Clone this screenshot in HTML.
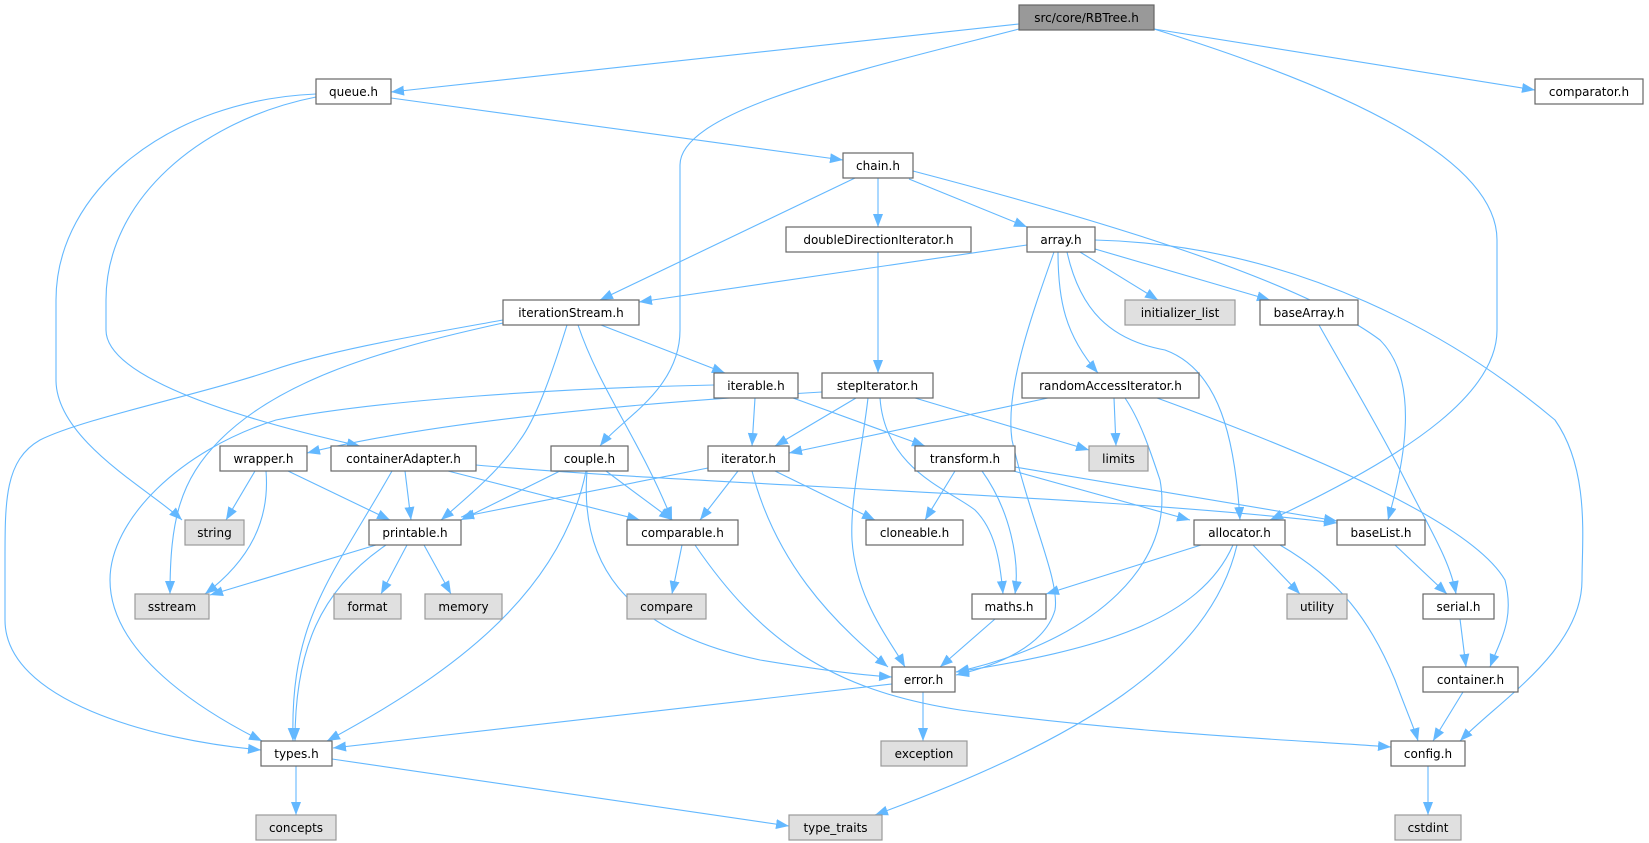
<!DOCTYPE html>
<html><head><meta charset="utf-8"><style>
html,body{margin:0;padding:0;background:#fff;}
svg{display:block;}
text{font-family:"DejaVu Sans","Liberation Sans",sans-serif;font-size:12px;fill:#000;}
.e{fill:none;stroke:#63b8ff;stroke-width:1.1;marker-end:url(#a);}
.n{fill:#fff;stroke:#666;stroke-width:1.2;}
.g{fill:#e0e0e0;stroke:#999;stroke-width:1.2;}
.r{fill:#999;stroke:#666;stroke-width:1.2;}
</style></head><body>
<svg width="1649" height="843" viewBox="0 0 1649 843" xmlns="http://www.w3.org/2000/svg">
<defs><marker id="a" markerUnits="userSpaceOnUse" markerWidth="14" markerHeight="11" refX="13" refY="5" orient="auto"><path d="M0,0 L13,5 L0,10 z" fill="#63b8ff"/></marker></defs>
<g>
<path class="e" d="M1019,24 L391,92"/>
<path class="e" d="M1019,29 C860,70 680,110 680,165 L680,330 C680,390 620,420 600,446"/>
<path class="e" d="M1154,29 C1350,90 1497,160 1497,240 L1497,330 C1497,390 1420,450 1270,520"/>
<path class="e" d="M1154,29 L1535,90"/>
<path class="e" d="M316,94 C170,100 56,190 56,300 L56,380 C56,440 150,490 182,520"/>
<path class="e" d="M316,97 C200,120 106,200 106,300 L106,330 C106,370 200,410 360,446"/>
<path class="e" d="M391,98 L843,160"/>
<path class="e" d="M855,178 L600,300"/>
<path class="e" d="M878,178 L878,227"/>
<path class="e" d="M909,179 L1027,227"/>
<path class="e" d="M913,171 C1100,220 1300,280 1380,340 C1420,380 1405,460 1388,520"/>
<path class="e" d="M878,252 L878,373"/>
<path class="e" d="M1027,245 L639,302"/>
<path class="e" d="M1080,252 L1158,300"/>
<path class="e" d="M1095,249 L1270,300"/>
<path class="e" d="M1058,252 C1058,300 1065,335 1098,373"/>
<path class="e" d="M1054,252 C1030,320 1005,390 1012,440 C1030,520 1060,580 1055,610 C1045,645 1000,665 956,675"/>
<path class="e" d="M1067,252 C1080,310 1110,340 1165,350 C1220,370 1235,440 1240,520"/>
<path class="e" d="M1095,240 C1300,245 1460,340 1555,420 C1590,470 1582,540 1582,580 C1582,650 1500,700 1460,741"/>
<path class="e" d="M601,325 L725,373"/>
<path class="e" d="M503,320 C420,335 330,350 273,370 C200,395 84,418 40,440 C5,460 5,500 5,560 L5,620 C5,700 150,740 261,750"/>
<path class="e" d="M503,323 C380,350 280,380 220,440 C180,480 170,520 170,594"/>
<path class="e" d="M567,325 C550,380 535,420 520,440 C500,470 470,495 441,520"/>
<path class="e" d="M578,325 C600,390 640,440 672,520"/>
<path class="e" d="M714,385 C560,388 380,400 276,420 C180,450 110,520 110,580 C110,660 220,720 262,741"/>
<path class="e" d="M755,398 L752,446"/>
<path class="e" d="M793,398 L925,446"/>
<path class="e" d="M822,392 C600,405 420,425 307,453"/>
<path class="e" d="M856,398 L775,446"/>
<path class="e" d="M915,398 L1089,450"/>
<path class="e" d="M868,398 C862,450 850,500 852,540 C856,600 890,640 905,667"/>
<path class="e" d="M880,398 C885,470 950,490 975,510 C995,530 1000,560 1003,594"/>
<path class="e" d="M1048,398 L789,453"/>
<path class="e" d="M1114,398 L1116,446"/>
<path class="e" d="M1125,398 C1140,420 1150,450 1160,480 C1175,560 1100,640 956,672"/>
<path class="e" d="M1157,398 C1300,450 1470,520 1505,580 C1515,620 1500,640 1490,667"/>
<path class="e" d="M1319,325 C1350,380 1380,430 1400,470 C1430,530 1450,560 1456,594"/>
<path class="e" d="M255,471 L226,520"/>
<path class="e" d="M266,471 C270,520 250,560 205,594"/>
<path class="e" d="M288,471 L390,520"/>
<path class="e" d="M405,471 L411,520"/>
<path class="e" d="M392,471 C330,580 290,620 293,741"/>
<path class="e" d="M448,471 L640,520"/>
<path class="e" d="M476,465 C700,485 1100,495 1337,523"/>
<path class="e" d="M560,471 L461,520"/>
<path class="e" d="M606,471 L672,520"/>
<path class="e" d="M586,471 C560,600 440,680 327,741"/>
<path class="e" d="M587,471 C580,560 620,630 760,660 C820,670 860,675 892,677"/>
<path class="e" d="M708,468 L461,517"/>
<path class="e" d="M738,471 L700,520"/>
<path class="e" d="M775,471 L875,520"/>
<path class="e" d="M752,471 C775,560 830,620 888,667"/>
<path class="e" d="M955,471 L925,520"/>
<path class="e" d="M982,471 C1010,510 1020,560 1015,594"/>
<path class="e" d="M1010,470 L1190,520"/>
<path class="e" d="M1015,467 L1337,521"/>
<path class="e" d="M682,545 L672,594"/>
<path class="e" d="M695,545 C760,640 830,690 960,710 C1150,735 1300,740 1391,747"/>
<path class="e" d="M376,545 L210,595"/>
<path class="e" d="M407,545 L381,594"/>
<path class="e" d="M424,545 L451,594"/>
<path class="e" d="M386,545 C320,590 295,650 295,741"/>
<path class="e" d="M1201,545 L1046,594"/>
<path class="e" d="M1253,545 L1300,594"/>
<path class="e" d="M1233,545 C1200,620 1100,650 956,672"/>
<path class="e" d="M1237,545 C1210,660 1080,740 875,815"/>
<path class="e" d="M1280,545 C1340,580 1370,620 1395,680 C1408,715 1415,730 1418,741"/>
<path class="e" d="M1395,545 L1447,594"/>
<path class="e" d="M1460,619 L1466,667"/>
<path class="e" d="M1463,692 L1433,741"/>
<path class="e" d="M995,619 L940,667"/>
<path class="e" d="M892,684 L333,748"/>
<path class="e" d="M923,692 L923,741"/>
<path class="e" d="M332,759 L789,826"/>
<path class="e" d="M296,766 L296,815"/>
<path class="e" d="M1428,766 L1428,815"/>
</g>
<g>
<rect class="r" x="1019" y="5" width="135" height="25"/><text x="1086.5" y="22" text-anchor="middle">src/core/RBTree.h</text>
<rect class="n" x="316" y="79" width="75" height="25"/><text x="353.5" y="96" text-anchor="middle">queue.h</text>
<rect class="n" x="1535" y="79" width="108" height="25"/><text x="1589" y="96" text-anchor="middle">comparator.h</text>
<rect class="n" x="843" y="153" width="70" height="25"/><text x="878" y="170" text-anchor="middle">chain.h</text>
<rect class="n" x="786" y="227" width="185" height="25"/><text x="878.5" y="244" text-anchor="middle">doubleDirectionIterator.h</text>
<rect class="n" x="1027" y="227" width="68" height="25"/><text x="1061" y="244" text-anchor="middle">array.h</text>
<rect class="n" x="503" y="300" width="136" height="25"/><text x="571" y="317" text-anchor="middle">iterationStream.h</text>
<rect class="g" x="1125" y="300" width="110" height="25"/><text x="1180" y="317" text-anchor="middle">initializer_list</text>
<rect class="n" x="1260" y="300" width="98" height="25"/><text x="1309" y="317" text-anchor="middle">baseArray.h</text>
<rect class="n" x="714" y="373" width="84" height="25"/><text x="756" y="390" text-anchor="middle">iterable.h</text>
<rect class="n" x="822" y="373" width="111" height="25"/><text x="877.5" y="390" text-anchor="middle">stepIterator.h</text>
<rect class="n" x="1022" y="373" width="177" height="25"/><text x="1110.5" y="390" text-anchor="middle">randomAccessIterator.h</text>
<rect class="n" x="220" y="446" width="87" height="25"/><text x="263.5" y="463" text-anchor="middle">wrapper.h</text>
<rect class="n" x="331" y="446" width="145" height="25"/><text x="403.5" y="463" text-anchor="middle">containerAdapter.h</text>
<rect class="n" x="551" y="446" width="77" height="25"/><text x="589.5" y="463" text-anchor="middle">couple.h</text>
<rect class="n" x="708" y="446" width="81" height="25"/><text x="748.5" y="463" text-anchor="middle">iterator.h</text>
<rect class="n" x="915" y="446" width="100" height="25"/><text x="965" y="463" text-anchor="middle">transform.h</text>
<rect class="g" x="1089" y="446" width="59" height="25"/><text x="1118.5" y="463" text-anchor="middle">limits</text>
<rect class="g" x="185" y="520" width="59" height="25"/><text x="214.5" y="537" text-anchor="middle">string</text>
<rect class="n" x="369" y="520" width="92" height="25"/><text x="415" y="537" text-anchor="middle">printable.h</text>
<rect class="n" x="627" y="520" width="111" height="25"/><text x="682.5" y="537" text-anchor="middle">comparable.h</text>
<rect class="n" x="866" y="520" width="97" height="25"/><text x="914.5" y="537" text-anchor="middle">cloneable.h</text>
<rect class="n" x="1194" y="520" width="91" height="25"/><text x="1239.5" y="537" text-anchor="middle">allocator.h</text>
<rect class="n" x="1337" y="520" width="88" height="25"/><text x="1381" y="537" text-anchor="middle">baseList.h</text>
<rect class="g" x="135" y="594" width="74" height="25"/><text x="172" y="611" text-anchor="middle">sstream</text>
<rect class="g" x="334" y="594" width="67" height="25"/><text x="367.5" y="611" text-anchor="middle">format</text>
<rect class="g" x="425" y="594" width="77" height="25"/><text x="463.5" y="611" text-anchor="middle">memory</text>
<rect class="g" x="627" y="594" width="79" height="25"/><text x="666.5" y="611" text-anchor="middle">compare</text>
<rect class="n" x="972" y="594" width="74" height="25"/><text x="1009" y="611" text-anchor="middle">maths.h</text>
<rect class="g" x="1287" y="594" width="60" height="25"/><text x="1317" y="611" text-anchor="middle">utility</text>
<rect class="n" x="1423" y="594" width="71" height="25"/><text x="1458.5" y="611" text-anchor="middle">serial.h</text>
<rect class="n" x="892" y="667" width="63" height="25"/><text x="923.5" y="684" text-anchor="middle">error.h</text>
<rect class="n" x="1423" y="667" width="95" height="25"/><text x="1470.5" y="684" text-anchor="middle">container.h</text>
<rect class="n" x="261" y="741" width="71" height="25"/><text x="296.5" y="758" text-anchor="middle">types.h</text>
<rect class="g" x="881" y="741" width="86" height="25"/><text x="924" y="758" text-anchor="middle">exception</text>
<rect class="n" x="1391" y="741" width="74" height="25"/><text x="1428" y="758" text-anchor="middle">config.h</text>
<rect class="g" x="256" y="815" width="80" height="25"/><text x="296" y="832" text-anchor="middle">concepts</text>
<rect class="g" x="789" y="815" width="93" height="25"/><text x="835.5" y="832" text-anchor="middle">type_traits</text>
<rect class="g" x="1395" y="815" width="66" height="25"/><text x="1428" y="832" text-anchor="middle">cstdint</text>
</g>
</svg>
</body></html>
